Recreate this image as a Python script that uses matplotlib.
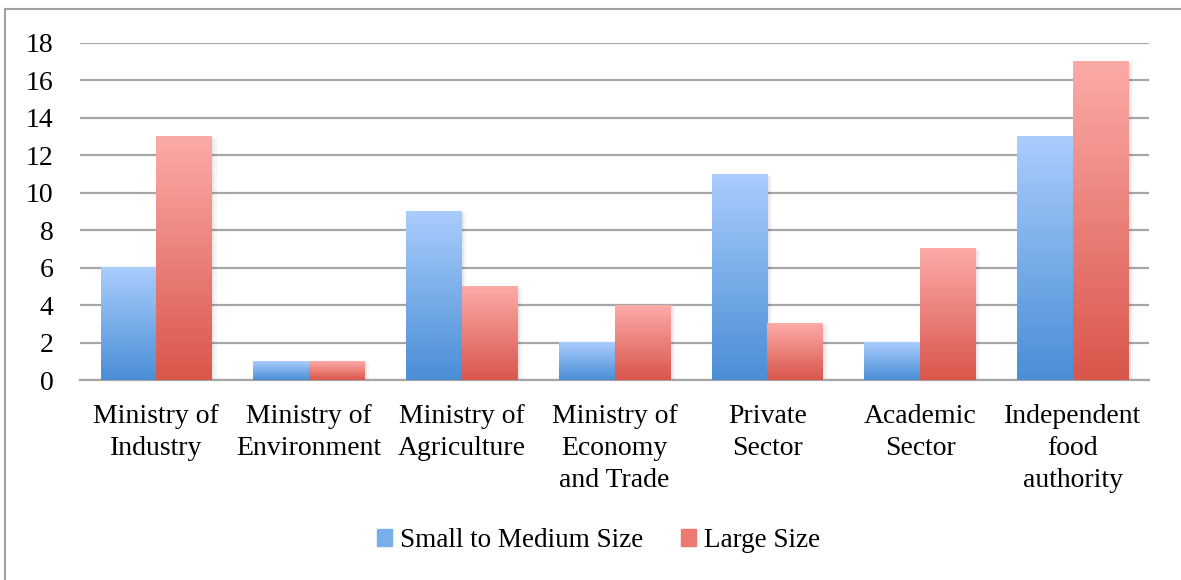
import numpy as np
import matplotlib.pyplot as plt
from matplotlib.colors import LinearSegmentedColormap
from matplotlib.lines import Line2D
from matplotlib.patches import Rectangle

categories = ['Ministry of\nIndustry', 'Ministry of\nEnvironment', 'Ministry of\nAgriculture',
              'Ministry of\nEconomy\nand Trade', 'Private\nSector', 'Academic\nSector',
              'Independent\nfood\nauthority']
small_medium = [6, 1, 9, 2, 11, 2, 13]
large = [13, 1, 5, 4, 3, 7, 17]
series_names = ['Small to Medium Size', 'Large Size']
yticks = [0, 2, 4, 6, 8, 10, 12, 14, 16, 18]

blue_cm = LinearSegmentedColormap.from_list('b', ['#4a8ed6', '#aacdfd'])
red_cm = LinearSegmentedColormap.from_list('r', ['#d9564b', '#fcaba8'])

plt.rcParams['font.family'] = ['Liberation Serif', 'DejaVu Serif']

fig = plt.figure(figsize=(11.81, 5.80), dpi=100)
ax = fig.add_axes([0.0677, 0.3448, 0.9053, 0.5811])

x = np.arange(len(categories))
w = 0.365
grad = np.linspace(0, 1, 256).reshape(-1, 1)


def draw_bars(xs, vals, cmap):
    bars = ax.bar(xs, vals, width=w, color='none', zorder=3)
    for b in bars:
        x0, y0 = b.get_x(), b.get_y()
        bw, bh = b.get_width(), b.get_height()
        # soft shadow
        for k, a in [(0.03, 0.04), (0.015, 0.05)]:
            ax.add_patch(Rectangle((x0 + k, y0 - 0.08), bw, bh, color='#000000',
                                   alpha=a, lw=0, zorder=2))
        ax.imshow(grad, cmap=cmap, origin='lower', aspect='auto',
                  extent=[x0, x0 + bw, y0, y0 + bh], zorder=3)


draw_bars(x - w / 2, small_medium, blue_cm)
draw_bars(x + w / 2, large, red_cm)

ax.set_xlim(-0.5, len(categories) - 0.5)
ax.set_ylim(0, 18)
ax.set_yticks(yticks)
ax.yaxis.grid(True, color='#a6a6a6', lw=1.6, zorder=0)
ax.set_axisbelow(True)
for s in ['top', 'right', 'left']:
    ax.spines[s].set_visible(False)
ax.spines['bottom'].set_color('#a6a6a6')
ax.spines['bottom'].set_linewidth(1.6)
ax.tick_params(axis='both', length=0, labelsize=20)
ax.tick_params(axis='y', pad=19)
ax.tick_params(axis='x', pad=17)
ax.set_xticks(x)
ax.set_xticklabels(categories, linespacing=1.38)

handles = [Rectangle((0, 0), 1, 1, color='#78aee9'), Rectangle((0, 0), 1, 1, color='#ec7a72')]
fig.legend(handles, series_names, loc='center', bbox_to_anchor=(0.507, 0.068), ncol=2,
           frameon=False, fontsize=19.5, handlelength=0.55, handleheight=0.55,
           handletextpad=0.3, columnspacing=1.4)

# outer frame (top and left only)
fig.add_artist(Line2D([5 / 1181, 5 / 1181], [0, 1 - 9 / 580], color='#a0a0a0', lw=1.5))
fig.add_artist(Line2D([5 / 1181, 1], [1 - 9 / 580, 1 - 9 / 580], color='#a0a0a0', lw=1.5))

fig.savefig('out.png', dpi=100)
